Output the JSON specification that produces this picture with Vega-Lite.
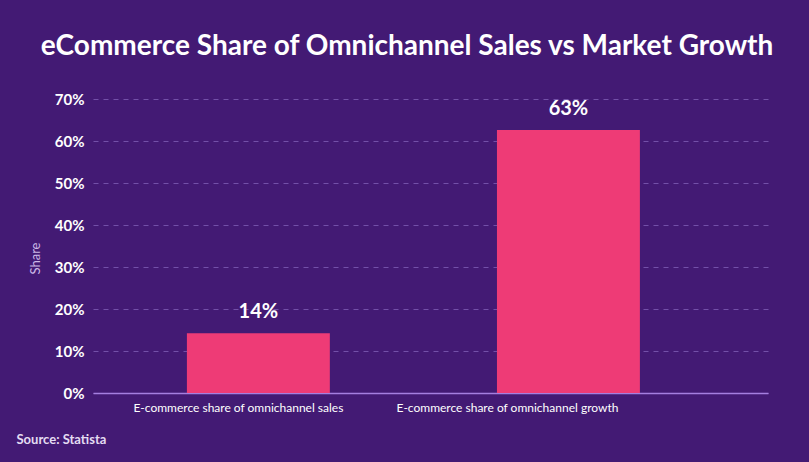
{
  "$schema": "https://vega.github.io/schema/vega-lite/v6.json",
  "autosize": {"type": "none"},
  "width": 675,
  "height": 294,
  "padding": {"left": 93, "top": 99, "right": 41, "bottom": 69},
  "background": "#431a74",
  "config": {
    "view": {"stroke": null},
    "font": "Lato"
  },
  "title": {
    "text": "eCommerce Share of Omnichannel Sales vs Market Growth",
    "font": "Lato",
    "fontSize": 28,
    "fontWeight": "bold",
    "color": "#ffffff",
    "anchor": "middle",
    "frame": "bounds",
    "baseline": "bottom",
    "offset": 3,
    "dx": 15
  },
  "data": {
    "values": [
      {"category": "E-commerce share of omnichannel sales", "share": 0.142},
      {"category": "E-commerce share of omnichannel growth", "share": 0.626}
    ]
  },
  "encoding": {
    "x": {
      "field": "category",
      "type": "nominal",
      "sort": null,
      "scale": {"paddingInner": 0.539, "paddingOuter": 0.358, "align": 0.423},
      "axis": {
        "title": "Source: Statista",
        "titleFont": "Lato",
        "titleFontSize": 13,
        "titleFontWeight": "bold",
        "titleColor": "#e4dcf2",
        "titleAnchor": "start",
        "titleAlign": "left",
        "titleBaseline": "alphabetic",
        "titleX": -77,
        "titleY": 50,
        "labelAngle": 0,
        "labelLimit": 0,
        "labelFont": "Lato",
        "labelFontSize": 12,
        "labelColor": "#ffffff",
        "labelPadding": 9,
        "labelOffset": {"expr": "datum.value === 'E-commerce share of omnichannel sales' ? -20 : -61"},
        "ticks": false,
        "domainColor": "#a57fe0",
        "domainWidth": 1.5,
        "grid": false
      }
    },
    "y": {
      "field": "share",
      "type": "quantitative",
      "scale": {"domain": [0, 0.7]},
      "axis": {
        "title": "Share",
        "titleFont": "Lato",
        "titleFontSize": 13,
        "titleFontWeight": "normal",
        "titleColor": "#cbb8e6",
        "titlePadding": 12,
        "titleY": 159,
        "titleAlign": "center",
        "format": ".0%",
        "values": [0, 0.1, 0.2, 0.3, 0.4, 0.5, 0.6, 0.7],
        "labelFont": "Lato",
        "labelFontSize": 15,
        "labelFontWeight": "bold",
        "labelColor": "#ffffff",
        "labelPadding": 9,
        "ticks": false,
        "domain": false,
        "grid": true,
        "gridColor": "#7350a8",
        "gridDash": [5, 5],
        "gridWidth": 1
      }
    }
  },
  "layer": [
    {"mark": {"type": "bar", "color": "#ee3b76"}},
    {
      "mark": {"type": "text", "dy": -11, "baseline": "bottom", "font": "Lato", "fontSize": 20, "fontWeight": "bold", "color": "#ffffff"},
      "encoding": {"text": {"field": "share", "type": "quantitative", "format": ".0%"}}
    }
  ]
}
